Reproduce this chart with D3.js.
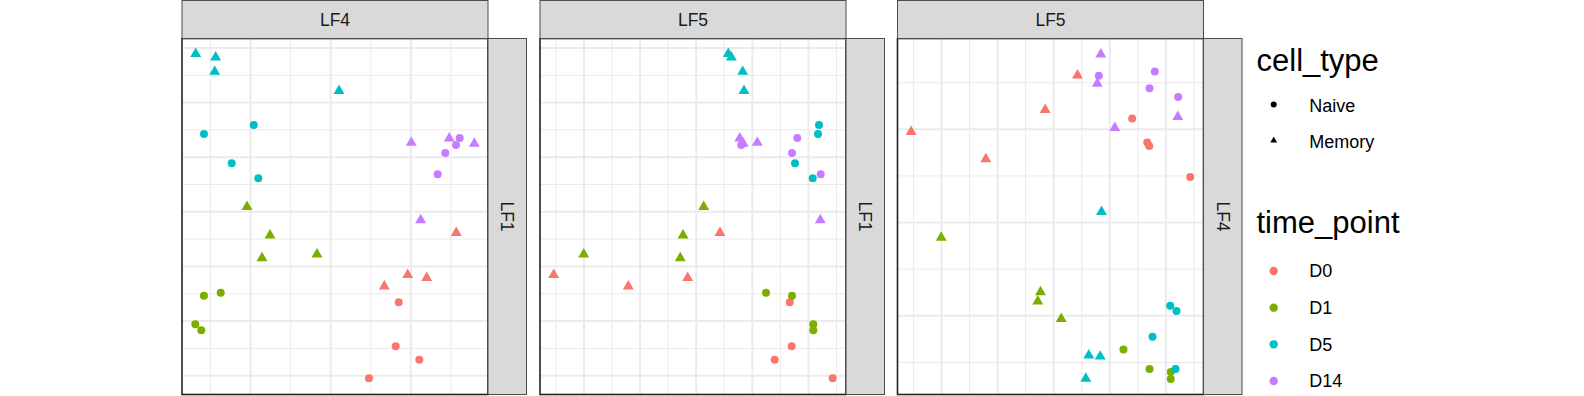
<!DOCTYPE html>
<html>
<head>
<meta charset="utf-8">
<script src="https://cdn.jsdelivr.net/npm/d3@7"></script>
<style>
  html, body { margin: 0; padding: 0; background: #fff; }
  svg { display: block; font-family: "Liberation Sans", Arial, Helvetica, sans-serif; }
</style>
</head>
<body>
<svg id="chart" width="1584" height="396"></svg>
<script>
// ---------------- data ----------------
const timePoints = ["D0", "D1", "D5", "D14"];
const cellTypes = ["Naive", "Memory"];
const timeColors = ["#F8766D", "#7CAE00", "#00BFC4", "#C77CFF"];

const sampleTime = [
  "D0","D0","D0","D0", "D0","D0","D0","D0",
  "D1","D1","D1","D1", "D1","D1","D1","D1",
  "D5","D5","D5","D5", "D5","D5","D5","D5",
  "D14","D14","D14","D14", "D14","D14","D14","D14"
];
const sampleCell = [
  "Naive","Naive","Naive","Naive", "Memory","Memory","Memory","Memory",
  "Naive","Naive","Naive","Naive", "Memory","Memory","Memory","Memory",
  "Naive","Naive","Naive","Naive", "Memory","Memory","Memory","Memory",
  "Naive","Naive","Naive","Naive", "Memory","Memory","Memory","Memory"
];
const LF1 = [
  -1.666, -2.472, -2.717, -3.057,  -0.392, -1.161, -1.216, -1.373,
  -1.490, -1.545, -2.069, -2.179,   0.084, -0.439, -0.855, -0.787,
   1.580,  1.415,  0.879,  0.604,   2.885,  2.819,  2.556,  2.208,
   1.342,  1.214,  1.067,  0.677,   1.256,  1.337,  1.238, -0.159
];
const LF4 = [
   0.855,  0.817,  1.112,  0.484,   1.573,  0.967,  1.204,  0.675,
  -1.366, -1.575, -1.683, -1.608,  -1.038, -0.751, -0.851, -0.165,
  -0.954, -1.575, -1.229, -0.897,  -1.678, -1.429, -1.441,  0.110,
   1.616,  1.570,  1.436,  1.341,   1.012,  1.486,  1.798,  1.129
];
const LF5 = [
   1.676,  1.711,  1.408,  2.442,   0.433, -2.531, -0.143, -1.201,
   1.253,  1.717,  2.096,  2.096,   0.143, -0.226, -0.275, -1.996,
   2.198,  2.180,  1.770,  2.086,   0.581,  0.635,  0.838,  0.861,
   1.811,  0.813,  1.717,  2.228,   1.098,  0.786,  0.848,  2.221
];

// scale limits (with ggplot-like expansion) and grid breaks
const limits = { LF1: [-3.354, 3.164], LF4: [-1.849, 1.969], LF5: [-2.775, 2.679] };
const majorBreaks = { LF1: [-3, -2, -1, 0, 1, 2, 3], LF4: [-1, 0, 1], LF5: [-2, -1, 0, 1, 2] };
const minorBreaks = {
  LF1: [-2.5, -1.5, -0.5, 0.5, 1.5, 2.5],
  LF4: [-1.5, -0.5, 0.5, 1.5],
  LF5: [-2.5, -1.5, -0.5, 0.5, 1.5, 2.5]
};
const factors = { LF1, LF4, LF5 };

const panelDefs = [
  { xVar: "LF4", yVar: "LF1" },
  { xVar: "LF5", yVar: "LF1" },
  { xVar: "LF5", yVar: "LF4" }
];

// ---------------- layout ----------------
const panelLefts = [182, 540, 897.5];
const panelW = 306;
const panelTop = 38.5, panelBottom = 394.5;
const stripTop = 0.5;
const stripW = 38.5;

const svg = d3.select("#chart");

const color = d3.scaleOrdinal().domain(timePoints).range(timeColors);
const shape = d3.scaleOrdinal().domain(cellTypes).range([d3.symbolCircle, d3.symbolTriangle]);
const shapeSize = d3.scaleOrdinal().domain(cellTypes).range([50, 52]);

const data = sampleTime.map((t, i) => ({
  time: t, cell: sampleCell[i], LF1: LF1[i], LF4: LF4[i], LF5: LF5[i]
}));

panelDefs.forEach((p, pi) => {
  const x0 = panelLefts[pi], x1 = x0 + panelW;
  const x = d3.scaleLinear().domain(limits[p.xVar]).range([x0, x1]);
  const y = d3.scaleLinear().domain(limits[p.yVar]).range([panelBottom, panelTop]);
  const g = svg.append("g");

  // panel background
  g.append("rect").attr("x", x0).attr("y", panelTop).attr("width", panelW)
    .attr("height", panelBottom - panelTop).attr("fill", "#fff");

  // minor grid
  const gridStyle = (sel, w) => {
    sel.select(".domain").remove();
    sel.selectAll("text").remove();
    sel.selectAll("line").attr("stroke", "#EBEBEB").attr("stroke-width", w);
  };
  g.append("g").attr("transform", `translate(0,${panelBottom})`)
    .call(d3.axisBottom(x).tickValues(minorBreaks[p.xVar]).tickSize(-(panelBottom - panelTop)).tickFormat(""))
    .call(s => gridStyle(s, 1));
  g.append("g").attr("transform", `translate(${x0},0)`)
    .call(d3.axisLeft(y).tickValues(minorBreaks[p.yVar]).tickSize(-panelW).tickFormat(""))
    .call(s => gridStyle(s, 1));
  // major grid
  g.append("g").attr("transform", `translate(0,${panelBottom})`)
    .call(d3.axisBottom(x).tickValues(majorBreaks[p.xVar]).tickSize(-(panelBottom - panelTop)).tickFormat(""))
    .call(s => gridStyle(s, 2));
  g.append("g").attr("transform", `translate(${x0},0)`)
    .call(d3.axisLeft(y).tickValues(majorBreaks[p.yVar]).tickSize(-panelW).tickFormat(""))
    .call(s => gridStyle(s, 2));

  // points
  g.append("g").selectAll("path").data(data).join("path")
    .attr("transform", d => `translate(${x(d[p.xVar])},${y(d[p.yVar])})`)
    .attr("d", d => d3.symbol().type(shape(d.cell)).size(shapeSize(d.cell))())
    .attr("fill", d => color(d.time));

  // panel border
  g.append("rect").attr("x", x0).attr("y", panelTop).attr("width", panelW)
    .attr("height", panelBottom - panelTop).attr("fill", "none")
    .attr("stroke", "#222").attr("stroke-width", 1.6);

  // top strip
  g.append("rect").attr("x", x0).attr("y", stripTop).attr("width", panelW)
    .attr("height", panelTop - stripTop).attr("fill", "#D9D9D9")
    .attr("stroke", "#4D4D4D").attr("stroke-width", 1);
  g.append("text").attr("x", (x0 + x1) / 2).attr("y", 26)
    .attr("text-anchor", "middle").attr("font-size", 17.5).attr("fill", "#1A1A1A")
    .text(p.xVar);

  // right strip
  g.append("rect").attr("x", x1).attr("y", panelTop).attr("width", stripW)
    .attr("height", panelBottom - panelTop).attr("fill", "#D9D9D9")
    .attr("stroke", "#4D4D4D").attr("stroke-width", 1);
  g.append("text")
    .attr("transform", `translate(${x1 + 13},${(panelTop + panelBottom) / 2}) rotate(90)`)
    .attr("text-anchor", "middle").attr("font-size", 17.5).attr("fill", "#1A1A1A")
    .text(p.yVar);
});

// ---------------- legends ----------------
const legX = 1256.5, keyX = 1273.7, labX = 1309.3;
const lg = svg.append("g");
lg.append("text").attr("x", legX).attr("y", 71).attr("font-size", 31).attr("fill", "#000").text("cell_type");
const cellKeyY = d3.scalePoint().domain(cellTypes).range([104.5, 140.5]);
cellTypes.forEach(c => {
  lg.append("path")
    .attr("transform", `translate(${keyX},${cellKeyY(c)})`)
    .attr("d", d3.symbol().type(shape(c)).size(c === "Naive" ? 28 : 20)())
    .attr("fill", "#000");
  lg.append("text").attr("x", labX).attr("y", cellKeyY(c) + 7).attr("font-size", 18)
    .attr("fill", "#000").text(c);
});

lg.append("text").attr("x", legX).attr("y", 233).attr("font-size", 31).attr("fill", "#000").text("time_point");
const timeKeyY = d3.scalePoint().domain(timePoints).range([271, 381]);
timePoints.forEach(t => {
  lg.append("path")
    .attr("transform", `translate(${keyX},${timeKeyY(t)})`)
    .attr("d", d3.symbol().type(d3.symbolCircle).size(55)())
    .attr("fill", color(t));
  lg.append("text").attr("x", labX).attr("y", timeKeyY(t) + 6.3).attr("font-size", 18)
    .attr("fill", "#000").text(t);
});
</script>
</body>
</html>
